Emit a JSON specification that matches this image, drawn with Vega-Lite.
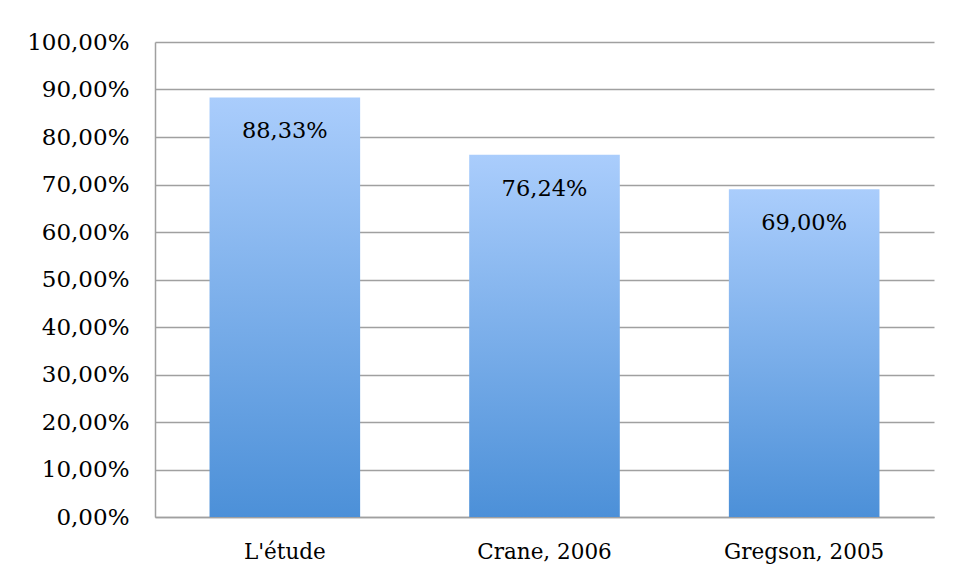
{
  "$schema": "https://vega.github.io/schema/vega-lite/v6.json",
  "width": 779,
  "height": 475,
  "autosize": {"type": "none"},
  "padding": {"left": 155, "top": 42, "right": 23, "bottom": 62},
  "background": "white",
  "config": {
    "locale": {"number": {"decimal": ",", "thousands": " ", "grouping": [3], "currency": ["", " €"]}},
    "view": {"stroke": null},
    "font": "DejaVu Serif"
  },
  "data": {
    "values": [
      {"source": "L'étude", "value": 0.8833},
      {"source": "Crane, 2006", "value": 0.7624},
      {"source": "Gregson, 2005", "value": 0.69}
    ]
  },
  "encoding": {
    "x": {
      "field": "source",
      "type": "nominal",
      "sort": null,
      "scale": {"paddingInner": 0.42, "paddingOuter": 0.21},
      "axis": {
        "title": null,
        "labelAngle": 0,
        "labelFont": "DejaVu Serif",
        "labelFontSize": 21.5,
        "labelColor": "#000000",
        "labelPadding": 24,
        "ticks": false,
        "domainColor": "#a0a0a0",
        "domainWidth": 1.5
      }
    },
    "y": {
      "field": "value",
      "type": "quantitative",
      "scale": {"domain": [0, 1], "nice": false},
      "axis": {
        "title": null,
        "values": [0, 0.1, 0.2, 0.3, 0.4, 0.5, 0.6, 0.7, 0.8, 0.9, 1],
        "format": ".2%",
        "labelFont": "DejaVu Serif",
        "labelFontSize": 23,
        "labelColor": "#000000",
        "labelPadding": 26,
        "ticks": false,
        "grid": true,
        "gridColor": "#a0a0a0",
        "gridWidth": 1.5,
        "domainColor": "#a0a0a0",
        "domainWidth": 1.5
      }
    }
  },
  "layer": [
    {
      "mark": {
        "type": "bar",
        "color": {
          "gradient": "linear",
          "x1": 0, "y1": 0, "x2": 0, "y2": 1,
          "stops": [
            {"offset": 0, "color": "#aacdfc"},
            {"offset": 1, "color": "#4c90d8"}
          ]
        }
      }
    },
    {
      "mark": {"type": "text", "baseline": "middle", "align": "center", "dy": 34, "font": "DejaVu Serif", "fontSize": 22.5, "color": "#000000"},
      "encoding": {
        "text": {"field": "value", "type": "quantitative", "format": ".2%"}
      }
    }
  ]
}
